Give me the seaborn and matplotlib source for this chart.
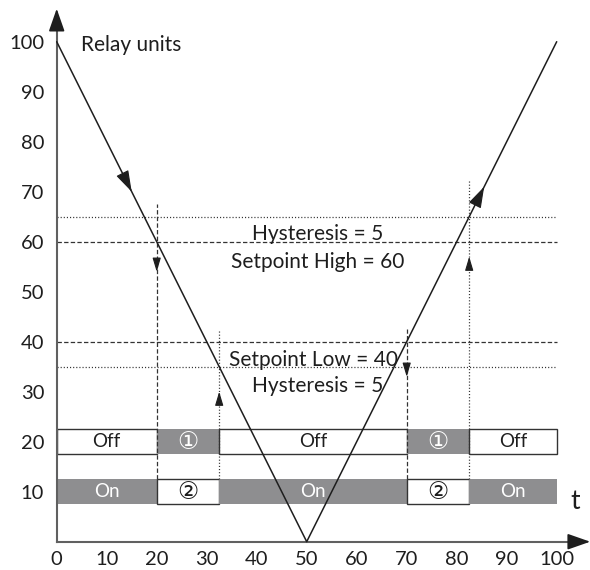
import matplotlib
matplotlib.use("Agg")
import matplotlib.pyplot as plt
import numpy as np
import pandas as pd
import seaborn as sns

# relay input signal (V shape)
CURVE_T = [0, 50, 100]
CURVE_Y = [100, 0, 100]

# setpoint / hysteresis levels
LEVELS = [65, 60, 40, 35]
LEVEL_STYLES = ["dotted", "dashed", "dashed", "dotted"]

# switching instants and how high their guide line reaches
SWITCH_T = [20, 32.5, 70, 82.5]
SWITCH_TOP = [67.5, 42.5, 42.5, 72.5]
SWITCH_STYLES = ["dashed", "dotted", "dashed", "dotted"]
SWITCH_ARROW_Y = [54, 30, 33, 57]
SWITCH_DIR = [-1, 1, -1, 1]

# relay state rows
EDGES = [0, 20, 32.5, 70, 82.5, 100]
OFF_ROW_Y = 20
ON_ROW_Y = 10
ROW_H = 5
OFF_LABELS = ["Off", "①", "Off", "①", "Off"]
OFF_FILLED = [False, True, False, True, False]
ON_LABELS = ["On", "②", "On", "②", "On"]
ON_FILLED = [True, False, True, False, True]

# arrows drawn along the signal line
CURVE_ARROW_T = [15, 85.5]

GRAY = "#8e8e90"
INK = "#1e1e1e"
AXIS = "#606060"

sns.set_style("white")
plt.rcParams["font.family"] = ["Lato", "Noto Sans CJK SC", "DejaVu Sans"]
plt.rcParams["font.size"] = 14

fig = plt.figure(figsize=(5.9, 5.7), dpi=100)
ax = fig.add_axes([0, 0, 1, 1])
ax.set_xlim(-11.34, 106.66)
ax.set_ylim(-5.66, 108.34)

# threshold lines
dash_map = {"dashed": (3.5, 1.8), "dotted": (0.9, 1.6)}
for lvl, st in zip(LEVELS, LEVEL_STYLES):
    ax.plot([0, 100], [lvl, lvl], color="#333333", lw=0.9, dashes=dash_map[st])

# state rows
def draw_row(y, labels, filled):
    for i, (lab, fill) in enumerate(zip(labels, filled)):
        left, right = EDGES[i], EDGES[i + 1]
        if fill:
            ax.barh(y, right - left, left=left, height=ROW_H, color=GRAY,
                    edgecolor=GRAY, lw=0, zorder=2)
        else:
            ax.barh(y, right - left, left=left, height=ROW_H, color="white",
                    edgecolor="#333333", lw=1.0, zorder=2)
        if lab in ("①", "②"):
            ax.text((left + right) / 2, y, lab, ha="center", va="center",
                    color="white" if fill else INK, fontsize=17, zorder=4,
                    family=["DejaVu Sans", "Noto Sans CJK SC"])
        else:
            ax.text((left + right) / 2, y, lab, ha="center", va="center",
                    color="white" if fill else INK, fontsize=13.5, zorder=4)

draw_row(OFF_ROW_Y, OFF_LABELS, OFF_FILLED)
draw_row(ON_ROW_Y, ON_LABELS, ON_FILLED)

# switching guide lines with direction arrows
for t, top, st, ay, d in zip(SWITCH_T, SWITCH_TOP, SWITCH_STYLES,
                             SWITCH_ARROW_Y, SWITCH_DIR):
    ax.plot([t, t], [ON_ROW_Y + ROW_H / 2, top], color="#333333", lw=0.9,
            dashes=dash_map[st], zorder=3)
    ax.annotate("", xy=(t, ay), xytext=(t, ay - d * 2.0),
                arrowprops=dict(arrowstyle="-|>,head_length=0.6,head_width=0.18",
                                color=INK, lw=0.8, shrinkA=0, shrinkB=0),
                zorder=5)

# the signal itself
curve = pd.DataFrame({"t": CURVE_T, "y": CURVE_Y})
sns.lineplot(data=curve, x="t", y="y", color=INK, lw=1.1, ax=ax, zorder=6)
for ct in CURVE_ARROW_T:
    cy = np.interp(ct, CURVE_T, CURVE_Y)
    slope = np.sign(ct - 50)
    ax.annotate("", xy=(ct, cy), xytext=(ct - 1.0, cy - slope * 2.0),
                arrowprops=dict(arrowstyle="-|>,head_length=0.95,head_width=0.3",
                                color=INK, lw=0.8, shrinkA=0, shrinkB=0),
                zorder=7)

# axes through the origin with arrows
for side in ["top", "right"]:
    ax.spines[side].set_visible(False)
ax.spines["left"].set_position(("data", 0))
ax.spines["bottom"].set_position(("data", 0))
ax.spines["left"].set_bounds(0, 105)
ax.spines["bottom"].set_bounds(0, 105)
for side in ["left", "bottom"]:
    ax.spines[side].set_color(AXIS)
    ax.spines[side].set_linewidth(1.5)
ax.annotate("", xy=(0, 106.6), xytext=(0, 103),
            arrowprops=dict(arrowstyle="-|>,head_length=1.0,head_width=0.35",
                            color=INK, lw=1.2, shrinkA=0, shrinkB=0))
ax.annotate("", xy=(106.7, 0), xytext=(103, 0),
            arrowprops=dict(arrowstyle="-|>,head_length=1.0,head_width=0.35",
                            color=INK, lw=1.2, shrinkA=0, shrinkB=0))

ax.set_xticks(np.arange(0, 101, 10))
ax.set_xticks(np.arange(5, 100, 5), minor=True)
ax.set_yticks(np.arange(10, 101, 10))
ax.set_yticks(np.arange(5, 100, 10), minor=True)
ax.tick_params(which="both", direction="inout", length=8, width=1.2,
               color=AXIS, labelcolor=INK, labelsize=14.5)
ax.tick_params(axis="x", pad=3)
ax.tick_params(axis="y", pad=5)
ax.xaxis.get_major_ticks()[0].tick1line.set_visible(False)
ax.set_xlabel("")
ax.set_ylabel("")

ax.text(4.8, 99.3, "Relay units", ha="left", va="center", fontsize=15, color=INK)
ax.text(103.6, 8, "t", ha="center", va="center", fontsize=19, color=INK)
ax.text(52.2, 61.6, "Hysteresis = 5", ha="center", va="center", color=INK, fontsize=15)
ax.text(52.2, 56.0, "Setpoint High = 60", ha="center", va="center", color=INK, fontsize=15)
ax.text(51.3, 36.4, "Setpoint Low = 40", ha="center", va="center", color=INK, fontsize=15)
ax.text(52.2, 31.2, "Hysteresis = 5", ha="center", va="center", color=INK, fontsize=15)

fig.savefig("out.png", dpi=100)
